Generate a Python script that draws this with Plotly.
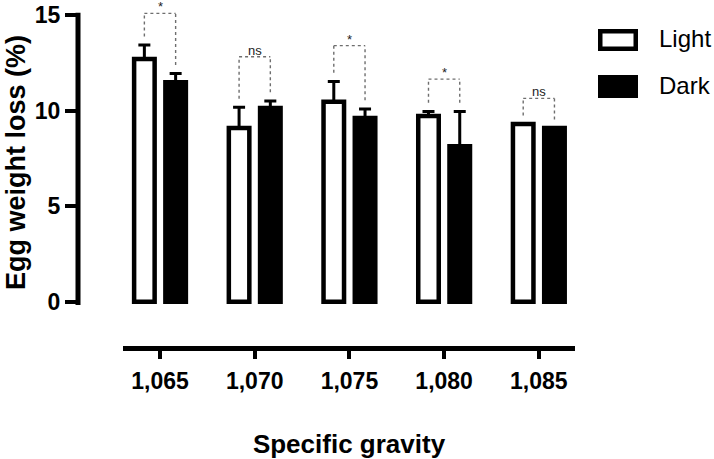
import plotly.graph_objects as go

# ---- data ----
categories = ["1,065", "1,070", "1,075", "1,080", "1,085"]
light_mean = [12.70, 9.09, 10.46, 9.72, 9.30]
light_sd = [0.73, 1.08, 1.07, 0.24, 0.0]
dark_mean = [11.49, 10.14, 9.62, 8.14, 9.09]
dark_sd = [0.45, 0.37, 0.47, 1.82, 0.0]
sig_labels = ["*", "ns", "*", "*", "ns"]
sig_top = [15.09, 12.82, 13.40, 11.65, 10.64]
y_ticks = [0, 5, 10, 15]

W, H = 714, 459
MB = 113               # bottom margin (px)
PH = H - MB            # plot height (px)
FONT = "Liberation Sans"

x_idx = list(range(len(categories)))
BAR_W = 0.2165
HALF_SEP = 0.165
LW = 4.5
GAP = 0.45

fig = go.Figure()
fig.add_trace(go.Bar(
    name="Light", x=x_idx, y=light_mean, width=BAR_W, offset=-HALF_SEP - BAR_W / 2,
    marker=dict(color="white", line=dict(color="black", width=LW)),
    error_y=dict(type="data", array=light_sd, arrayminus=[0] * 5, symmetric=False,
                 color="black", thickness=3, width=6),
))
fig.add_trace(go.Bar(
    name="Dark", x=x_idx, y=dark_mean, width=BAR_W, offset=HALF_SEP - BAR_W / 2,
    marker=dict(color="black", line=dict(color="black", width=LW)),
    error_y=dict(type="data", array=dark_sd, arrayminus=[0] * 5, symmetric=False,
                 color="black", thickness=3, width=6),
))

shapes = []
annotations = []

# y axis line (stops at 15 like the original)
shapes.append(dict(type="line", xref="paper", yref="y", x0=78 / W, x1=78 / W,
                   y0=-0.18, y1=15.12, line=dict(color="black", width=5)))

# significance brackets
for i in x_idx:
    xl, xr = i - HALF_SEP, i + HALF_SEP
    yl = light_mean[i] + light_sd[i] + GAP
    yr = dark_mean[i] + dark_sd[i] + GAP
    top = sig_top[i]
    dot = dict(color="#6e6e6e", width=1.4, dash="dot")
    shapes += [
        dict(type="line", xref="x", yref="y", x0=xl, x1=xl, y0=yl, y1=top, line=dot),
        dict(type="line", xref="x", yref="y", x0=xl, x1=xr, y0=top, y1=top, line=dot),
        dict(type="line", xref="x", yref="y", x0=xr, x1=xr, y0=yr, y1=top, line=dot),
    ]
    annotations.append(dict(x=i, y=top, xref="x", yref="y", text=sig_labels[i],
                            showarrow=False, yanchor="bottom", xanchor="center", yshift=-3,
                            font=dict(family=FONT, size=13, color="#222")))

# legend (drawn by hand to get the large boxes)
def py(p):
    return (PH - p) / PH

shapes.append(dict(type="rect", xref="paper", yref="paper",
                   x0=600.25 / W, x1=635.75 / W, y0=py(31.25), y1=py(48.75),
                   fillcolor="white", line=dict(color="black", width=LW)))
shapes.append(dict(type="rect", xref="paper", yref="paper",
                   x0=598 / W, x1=638 / W, y0=py(75), y1=py(98),
                   fillcolor="black", line=dict(color="black", width=0)))
annotations.append(dict(x=657 / W, y=py(38), xref="paper", yref="paper", text="Light",
                        showarrow=False, xanchor="left", yanchor="middle",
                        font=dict(family=FONT, size=24, color="black")))
annotations.append(dict(x=657 / W, y=py(85), xref="paper", yref="paper", text="Dark",
                        showarrow=False, xanchor="left", yanchor="middle",
                        font=dict(family=FONT, size=24, color="black")))

# y axis title
annotations.append(dict(x=16 / W, y=py(163), xref="paper", yref="paper",
                        text="Egg weight loss (%)", textangle=-90, showarrow=False,
                        xanchor="center", yanchor="middle",
                        font=dict(family=FONT, size=27, color="black", weight="bold")))

fig.update_layout(
    width=W, height=H,
    margin=dict(l=0, r=0, t=0, b=MB),
    paper_bgcolor="white", plot_bgcolor="white",
    barmode="overlay", showlegend=False,
    shapes=shapes, annotations=annotations,
    xaxis=dict(
        domain=[123 / W, 575 / W], range=[-0.3907, 4.382],
        tickvals=x_idx, ticktext=categories,
        showline=True, linewidth=5, linecolor="black",
        ticks="outside", ticklen=8, tickwidth=4, tickcolor="black",
        ticklabelstandoff=2,
        showgrid=False, zeroline=False, automargin=False,
        tickfont=dict(family=FONT, size=23, color="black", weight="bold"),
        title=dict(text="Specific gravity", standoff=44,
                   font=dict(family=FONT, size=26, color="black", weight="bold")),
    ),
    yaxis=dict(
        range=[-2.32, 15.79], anchor="free", position=78 / W, side="left",
        tickvals=y_ticks, ticks="outside", ticklen=13, tickwidth=4, tickcolor="black",
        showline=False, showgrid=False, zeroline=False, automargin=False,
        tickfont=dict(family=FONT, size=23, color="black", weight="bold"),
    ),
)

fig.write_html("out.html", config={"displayModeBar": False},
               post_script="document.body.style.margin='0px';")
